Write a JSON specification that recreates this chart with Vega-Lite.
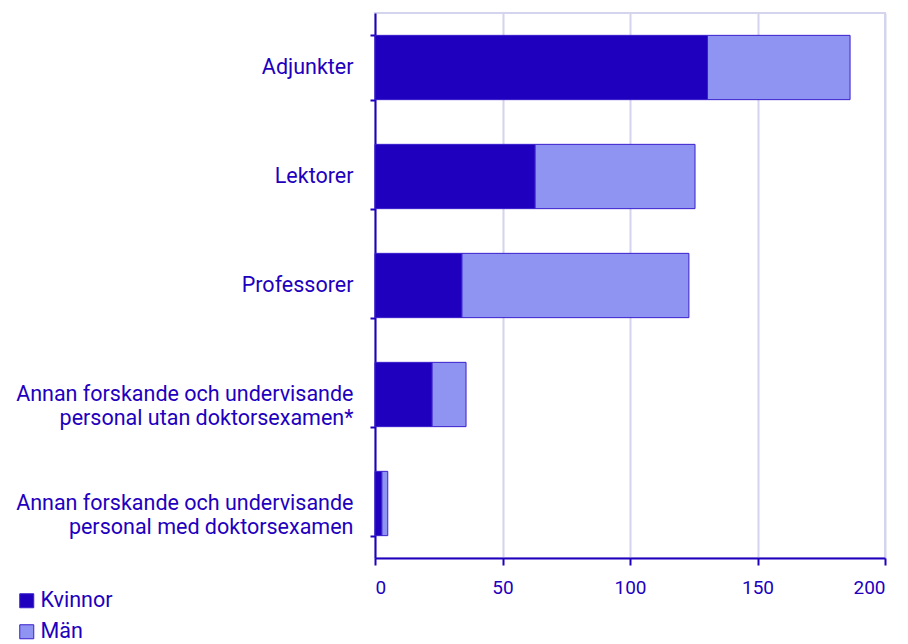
{
  "$schema": "https://vega.github.io/schema/vega-lite/v6.json",
  "autosize": {"type": "none"},
  "padding": {"left": 375, "top": 13, "right": 23, "bottom": 86},
  "width": 510,
  "height": 545,
  "config": {
    "font": "Roboto",
    "view": {"stroke": "#d4d4ee", "strokeWidth": 2}
  },
  "data": {
    "values": [
      {"kategori": "Adjunkter", "kon": "Kvinnor", "ordning": 1, "antal": 130.4},
      {"kategori": "Adjunkter", "kon": "Män", "ordning": 2, "antal": 55.9},
      {"kategori": "Lektorer", "kon": "Kvinnor", "ordning": 1, "antal": 62.8},
      {"kategori": "Lektorer", "kon": "Män", "ordning": 2, "antal": 62.7},
      {"kategori": "Professorer", "kon": "Kvinnor", "ordning": 1, "antal": 34.1},
      {"kategori": "Professorer", "kon": "Män", "ordning": 2, "antal": 89.0},
      {"kategori": "Annan forskande och undervisande personal utan doktorsexamen*", "kon": "Kvinnor", "ordning": 1, "antal": 22.4},
      {"kategori": "Annan forskande och undervisande personal utan doktorsexamen*", "kon": "Män", "ordning": 2, "antal": 13.3},
      {"kategori": "Annan forskande och undervisande personal med doktorsexamen", "kon": "Kvinnor", "ordning": 1, "antal": 2.7},
      {"kategori": "Annan forskande och undervisande personal med doktorsexamen", "kon": "Män", "ordning": 2, "antal": 2.3}
    ]
  },
  "mark": {"type": "bar", "stroke": "#3a1fcc", "strokeWidth": 1},
  "encoding": {
    "y": {
      "field": "kategori",
      "type": "nominal",
      "sort": null,
      "title": null,
      "scale": {"paddingInner": 0.41, "paddingOuter": 0.205},
      "axis": {
        "tickBand": "extent",
        "domainColor": "#1e00be",
        "domainWidth": 2,
        "tickColor": "#1e00be",
        "tickWidth": 2,
        "tickSize": 5,
        "labelColor": "#1e00be",
        "labelFontSize": 21.5,
        "labelLineHeight": 24,
        "labelPadding": 17,
        "labelLimit": 500,
        "grid": false,
        "labelExpr": "split(replace(datum.label, ' personal', '\\npersonal'), '\\n')"
      }
    },
    "x": {
      "field": "antal",
      "type": "quantitative",
      "stack": "zero",
      "title": null,
      "scale": {"domain": [0, 200], "nice": false},
      "axis": {
        "values": [0, 50, 100, 150, 200],
        "domainColor": "#1e00be",
        "domainWidth": 2,
        "tickColor": "#1e00be",
        "tickWidth": 2,
        "tickSize": 7,
        "labelColor": "#1e00be",
        "labelFontSize": 19,
        "labelPadding": 13,
        "gridColor": "#d4d4ee",
        "gridWidth": 2
      }
    },
    "color": {
      "field": "kon",
      "type": "nominal",
      "sort": ["Kvinnor", "Män"],
      "scale": {"domain": ["Kvinnor", "Män"], "range": ["#1e00be", "#8f94f2"]},
      "legend": {
        "title": null,
        "orient": "none",
        "legendX": -359,
        "legendY": 577,
        "direction": "vertical",
        "symbolType": "square",
        "symbolSize": 196,
        "symbolStrokeColor": "#3a1fcc",
        "symbolStrokeWidth": 1,
        "labelColor": "#1e00be",
        "labelFontSize": 21.5,
        "labelOffset": 3,
        "rowPadding": 8
      }
    },
    "order": {"field": "ordning", "type": "quantitative"}
  }
}
